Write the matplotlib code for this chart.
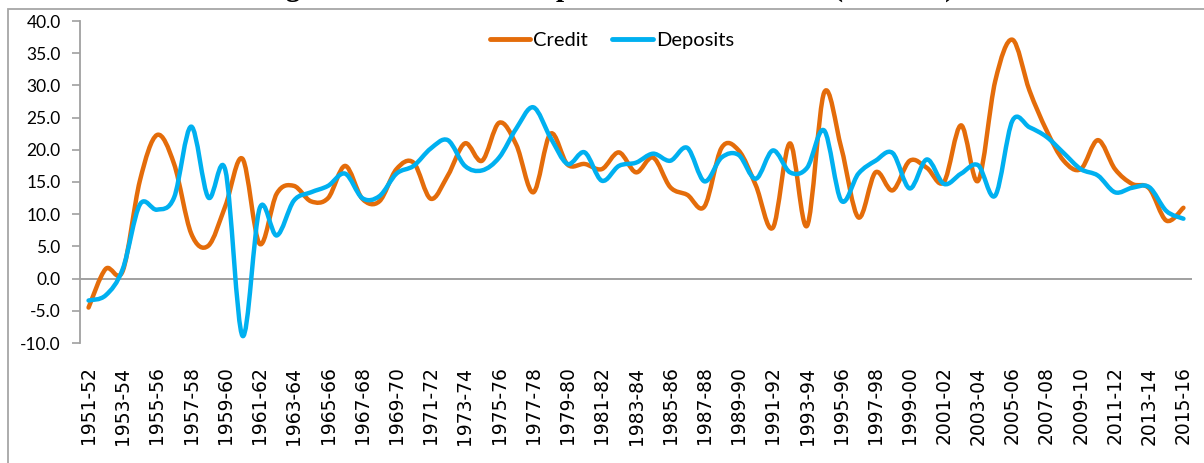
import matplotlib
matplotlib.use('Agg')
import matplotlib.pyplot as plt
from matplotlib.path import Path
from matplotlib.patches import PathPatch, Rectangle
from matplotlib.lines import Line2D

years = [f"{y}-{str(y + 1)[-2:]}" for y in range(1951, 2016)]

credit = [-4.5, 1.5, 1.2, 15.2, 22.3, 17.8, 7.0, 5.1, 11.3, 18.6,
          5.4, 13.2, 14.4, 12.0, 12.5, 17.5, 12.4, 12.0, 17.0, 18.0,
          12.4, 16.0, 21.0, 18.3, 24.2, 20.8, 13.4, 22.5, 17.7, 17.8,
          17.0, 19.6, 16.5, 18.8, 14.2, 13.0, 11.2, 20.3, 19.9, 14.5,
          7.9, 21.0, 8.2, 28.9, 20.3, 9.5, 16.5, 13.7, 18.3, 17.2,
          15.0, 23.8, 15.2, 30.7, 37.1, 29.2, 23.0, 18.3, 17.0, 21.5,
          17.0, 14.7, 14.0, 9.0, 11.0]

deposits = [-3.4, -2.6, 1.5, 11.5, 10.7, 12.6, 23.6, 12.6, 16.8, -8.9,
            10.9, 6.7, 12.1, 13.4, 14.4, 16.3, 12.5, 12.8, 16.3, 17.5,
            20.2, 21.5, 17.5, 16.8, 18.8, 23.3, 26.6, 21.9, 17.8, 19.6,
            15.2, 17.5, 18.0, 19.4, 18.3, 20.3, 15.1, 18.8, 19.2, 15.5,
            19.9, 16.5, 17.2, 23.0, 12.1, 16.3, 18.3, 19.5, 14.0, 18.5,
            14.7, 16.3, 17.6, 12.9, 24.5, 23.5, 22.0, 19.5, 17.0, 16.0,
            13.4, 14.1, 14.2, 10.5, 9.3]

series_names = ["Credit", "Deposits"]
colors = ["#E46C0A", "#00B0F0"]
title = "Figure 1: Credit and Deposit Growth of SCBs (Per cent)"

W, H = 1204, 463
fig = plt.figure(figsize=(W / 100, H / 100), dpi=100)

# outer chart border
fig.patches.append(Rectangle((8 / W, -0.05), 1.2, 1 - 9 / H + 0.05, transform=fig.transFigure,
                             fill=False, edgecolor="#A6A6A6", lw=1.3))

ax = fig.add_axes([80 / W, 1 - 343 / H, 1112 / W, 322 / H])


def smooth_path(xs, ys):
    n = len(xs)
    pts = list(zip(xs, ys))
    verts = [pts[0]]
    codes = [Path.MOVETO]
    for i in range(n - 1):
        p0 = pts[i - 1] if i > 0 else pts[i]
        p1 = pts[i]
        p2 = pts[i + 1]
        p3 = pts[i + 2] if i + 2 < n else pts[i + 1]
        c1 = (p1[0] + (p2[0] - p0[0]) / 6, p1[1] + (p2[1] - p0[1]) / 6)
        c2 = (p2[0] - (p3[0] - p1[0]) / 6, p2[1] - (p3[1] - p1[1]) / 6)
        verts += [c1, c2, p2]
        codes += [Path.CURVE4] * 3
    return Path(verts, codes)


xs = list(range(len(years)))
for vals, col in zip([credit, deposits], colors):
    ax.add_patch(PathPatch(smooth_path(xs, vals), fill=False, edgecolor=col,
                           lw=3.2, capstyle='round', joinstyle='round', zorder=3))

ax.axhline(0, color="#A0A0A0", lw=1.4, zorder=2)
ax.set_xlim(-0.5, len(years) - 0.5)
ax.set_ylim(-10, 40)
ax.set_yticks(range(-10, 41, 5))
ax.set_yticklabels([f"{v:.1f}" for v in range(-10, 41, 5)], fontfamily="Lato", fontsize=12.5)
ax.set_xticks(xs[::2])
ax.set_xticklabels(years[::2], rotation=90, fontfamily="DejaVu Sans", fontsize=13.5)
ax.tick_params(axis='x', length=0, pad=17)
ax.tick_params(axis='y', length=6, width=1.2, color="#A0A0A0", direction='out', pad=8)
for s in ['top', 'right', 'bottom']:
    ax.spines[s].set_visible(False)
ax.spines['left'].set_color("#A0A0A0")
ax.spines['left'].set_linewidth(1.3)

handles = [Line2D([], [], color=c, lw=3.5, solid_capstyle='round') for c in colors]
fig.legend(handles, series_names, loc='center', bbox_to_anchor=(612 / W, 1 - 40 / H), ncol=2,
           frameon=False, prop={'family': 'Lato', 'size': 14.5}, handlelength=2.0,
           handletextpad=0.15, columnspacing=1.2)

# title sits mostly above the top edge, as in the reference
fig.text(607 / W, 1 + 4 / H, title, ha='center', va='baseline', fontfamily='Liberation Serif',
         fontweight='bold', fontsize=21)

fig.savefig("out.png", dpi=100)
